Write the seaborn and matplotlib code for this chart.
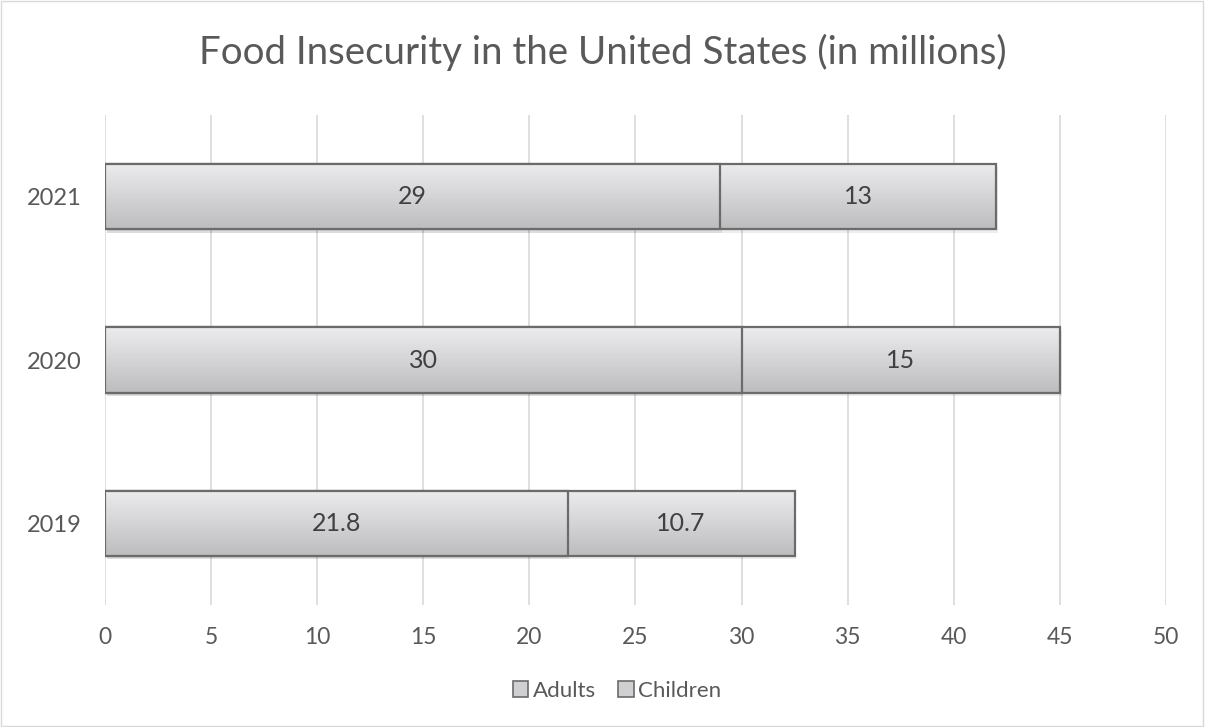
import numpy as np
import pandas as pd
import matplotlib
matplotlib.use("Agg")
import matplotlib.pyplot as plt
import seaborn as sns
from matplotlib.patches import Rectangle

years = ["2021", "2020", "2019"]
adults = [29, 30, 21.8]
children = [13, 15, 10.7]
adult_labels = ["29", "30", "21.8"]
child_labels = ["13", "15", "10.7"]
xticks = [0, 5, 10, 15, 20, 25, 30, 35, 40, 45, 50]

sns.set_theme(style="white")
plt.rcParams['font.family'] = ['Lato', 'DejaVu Sans']

df = pd.DataFrame({"year": years, "Adults": adults, "Children": children})
df["Total"] = df["Adults"] + df["Children"]

fig = plt.figure(figsize=(12.05, 7.27), dpi=100)
ax = fig.add_axes([0.0871, 0.1678, 0.8805, 0.674])

edge = "#6b6b6b"
sns.barplot(data=df, y="year", x="Total", order=years, color="#d0d0d2",
            edgecolor=edge, linewidth=1.6, width=0.4, ax=ax, orient="h", zorder=3)
sns.barplot(data=df, y="year", x="Adults", order=years, color="#d0d0d2",
            edgecolor=edge, linewidth=1.6, width=0.4, ax=ax, orient="h", zorder=4)

# gradient fill for bars
grad = np.linspace(0, 1, 64).reshape(-1, 1)
cmap = matplotlib.colors.LinearSegmentedColormap.from_list("g", ["#ececee", "#bdbdc0"])
for p in list(ax.patches):
    x0, y0 = p.get_x(), p.get_y()
    w, h = p.get_width(), p.get_height()
    im = ax.imshow(grad, cmap=cmap, aspect="auto",
                   extent=(x0, x0 + w, y0 + h, y0), zorder=p.get_zorder() + 0.1)
    im.set_clip_path(p)
    p.set_facecolor("none")
    p.set_zorder(p.get_zorder() + 0.2)
    sh = Rectangle((x0 + 0.08, y0 + 0.02), w, h, facecolor="#000000", alpha=0.07,
                   edgecolor="none", zorder=2)
    ax.add_patch(sh)

for i in range(len(years)):
    ax.text(adults[i] / 2, i, adult_labels[i], ha="center", va="center",
            fontsize=18, color="#404040", zorder=10)
    ax.text(adults[i] + children[i] / 2, i, child_labels[i], ha="center", va="center",
            fontsize=18, color="#404040", zorder=10)

ax.set_xlim(0, 50)
ax.set_ylim(2.5, -0.5)
ax.set_xticks(xticks)
ax.set_xticklabels([str(t) for t in xticks])
ax.grid(axis="x", color="#d9d9d9", linewidth=1.2, zorder=0)
ax.set_axisbelow(True)
for s in ax.spines.values():
    s.set_visible(False)
ax.set_xlabel("")
ax.set_ylabel("")
ax.tick_params(axis="x", labelsize=16.5, colors="#595959", pad=16, length=0)
ax.tick_params(axis="y", labelsize=17, colors="#595959", pad=17, length=0)

fig.suptitle("Food Insecurity in the United States (in millions)", y=0.953,
             fontsize=27.7, color="#595959")

handles = [Rectangle((0, 0), 1, 1, facecolor="#d0d0d2", edgecolor=edge, linewidth=1.2),
           Rectangle((0, 0), 1, 1, facecolor="#d0d0d2", edgecolor=edge, linewidth=1.2)]
fig.legend(handles, ["Adults", "Children"], loc="center", bbox_to_anchor=(0.512, 0.05),
           ncol=2, frameon=False, fontsize=16, handlelength=0.7, handleheight=0.7,
           handletextpad=0.2, columnspacing=1.0, labelcolor="#595959")

fig.add_artist(Rectangle((0.001, 0.001), 0.997, 0.997, transform=fig.transFigure,
                         fill=False, edgecolor="#d9d9d9", linewidth=1))

fig.savefig("out.png", dpi=100)
